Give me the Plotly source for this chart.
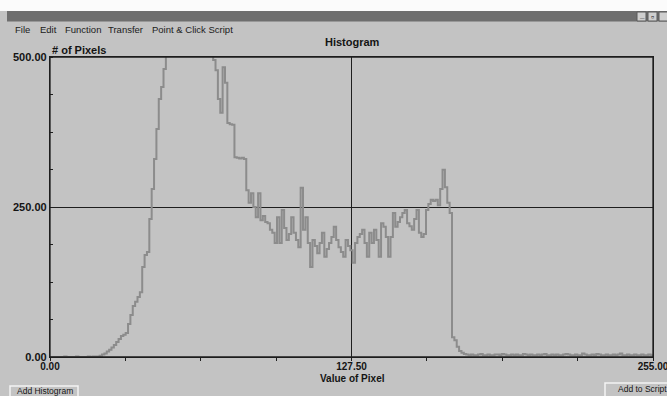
import plotly.graph_objects as go

# ---------------- data ----------------
pixel_count = (
    [0, 0, 0, 0, 0, 0, 1, 0, 0, 0, 0, 1, 0, 0, 0, 0, 1, 0, 1, 1]                 # 0-19
    + [1, 2, 4, 6, 9, 12, 16, 20, 25, 30, 35, 37, 40, 55, 70, 85, 92, 100, 108, 150,
       170, 175, 230, 280, 330, 380, 430, 450, 480, 520]                          # 20-49
    + [560, 600, 640, 680, 700, 720, 720, 710, 700, 690, 680, 660, 640, 620, 600,
       580, 560, 540, 520]                                                        # 50-68
    + [495, 478, 430, 407, 483, 457, 390, 388, 387, 333, 332, 331, 332, 330, 278,
       257, 273, 250, 233, 273, 228, 235, 225, 223, 212, 207, 190, 233, 190, 245,
       215]                                                                       # 69-99
    + [195, 205, 233, 207, 195, 183, 282, 212, 233, 190, 150, 195, 185, 173, 190,
       207, 167, 180, 190, 200, 217, 195, 183, 175, 167, 195, 185, 178, 157, 190,
       200, 205, 212, 190, 167, 207, 190, 212, 195, 167, 223, 217, 200, 167, 200,
       240, 217, 225, 233, 240, 245, 223, 218, 212, 230, 245, 207, 200, 205, 245,
       255, 262, 260, 262, 253, 280, 312, 283, 257, 240]                          # 100-169
    + [33, 28, 17, 10, 7]                                                         # 170-174
    + [5, 4, 3, 4, 3, 3, 4, 5, 3, 3, 4, 3, 3, 4, 4, 3, 5, 4, 3, 3,
       4, 3, 4, 3, 3, 5, 4, 3, 4, 3, 3, 4, 3, 4, 5, 3, 3, 4, 3, 4,
       3, 3, 4, 5, 4, 3, 3, 4, 3, 3, 6, 4, 3, 3, 4, 3, 5, 4, 3, 3,
       4, 3, 3, 4, 3, 4, 6, 3, 3, 4, 3, 3, 4, 3, 3, 4, 3, 3, 4, 3, 3]             # 175-255
)
pixel_value = list(range(len(pixel_count)))

x_tick_vals = [0, 127.5, 255]
x_tick_text = ["0.00", "127.50", "255.00"]
y_tick_vals = [0, 250, 500]
y_tick_text = ["0.00", "250.00", "500.00"]

menu_items = ["File", "Edit", "Function", "Transfer", "Point & Click Script"]
menu_x = [13, 38, 63, 106, 150]

# ---------------- layout helpers ----------------
W, H = 667, 396
L, R, T, B = 50, 14, 57, 39
PW, PH = W - L - R, H - T - B
BG = "#c3c3c3"
INK = "#141414"
AX = "#1e1e1e"
FONT = "Liberation Sans, Arial, sans-serif"


def px(x):
    return (x - L) / PW


def py(y):
    return (H - B - y) / PH


fig = go.Figure()
fig.add_trace(go.Scatter(
    x=pixel_value, y=pixel_count, mode="lines",
    line=dict(color="#8c8c8c", width=2, shape="hv"),
    hoverinfo="skip", showlegend=False,
))

shapes = [
    # white scan strip on top
    dict(type="rect", xref="paper", yref="paper", x0=px(-2), x1=px(W + 2), y0=py(11), y1=py(-2),
         fillcolor="#fbfbfb", line=dict(width=0), layer="below"),
    # window title bar
    dict(type="rect", xref="paper", yref="paper", x0=px(7), x1=px(W + 2), y0=py(21.5), y1=py(11),
         fillcolor="#6e6e6e", line=dict(width=0), layer="below"),
    # plot frame
    dict(type="rect", xref="paper", yref="paper", x0=0, x1=1, y0=0, y1=1,
         fillcolor="rgba(0,0,0,0)", line=dict(color=AX, width=1.3), layer="above"),
]
# title-bar buttons
for bx in [637, 648, 659]:
    shapes.append(dict(type="rect", xref="paper", yref="paper", x0=px(bx), x1=px(bx + 9),
                       y0=py(21), y1=py(12), fillcolor="#cfcfcf",
                       line=dict(color="#5a5a5a", width=1), layer="above"))
# bottom buttons
shapes.append(dict(type="rect", xref="paper", yref="paper", x0=px(10), x1=px(78), y0=py(398), y1=py(386),
                   fillcolor="rgba(0,0,0,0)", line=dict(color="#f4f4f4", width=1.5)))
shapes.append(dict(type="rect", xref="paper", yref="paper", x0=px(605), x1=px(670), y0=py(398), y1=py(383),
                   fillcolor="rgba(0,0,0,0)", line=dict(color="#f4f4f4", width=1.5)))

annotations = []


def note(text, x, y, size=11, anchor="left", bold=True, color=INK):
    annotations.append(dict(
        text=f"<b>{text}</b>" if bold else text, xref="paper", yref="paper",
        x=px(x), y=py(y), xanchor=anchor, yanchor="middle", showarrow=False,
        font=dict(family=FONT, size=size, color=color)))


for name, mx in zip(menu_items, menu_x):
    note(name, mx, 30, size=9.5, bold=False, color="#202020")
note("Histogram", 352, 42, size=11, anchor="center")
note("# of Pixels", 50, 50, size=11, anchor="left")
note("Value of Pixel", 352, 378.5, size=10, anchor="center")
note("Add Histogram", 15, 391, size=8.5, anchor="left", bold=False)
note("Add to Script", 616, 389, size=8.5, anchor="left", bold=False)
note("_", 641.5, 15, size=8, anchor="center", bold=True)
note("▫", 652.5, 16.5, size=9, anchor="center", bold=True)

fig.update_layout(
    width=W, height=H,
    margin=dict(l=L, r=R, t=T, b=B, pad=0, autoexpand=False),
    paper_bgcolor=BG, plot_bgcolor=BG,
    font=dict(family=FONT, size=11, color=INK),
    shapes=shapes, annotations=annotations,
    showlegend=False,
    xaxis=dict(
        range=[0, 255], tickmode="array", tickvals=x_tick_vals,
        ticktext=[f"<b>{t}</b>" for t in x_tick_text],
        ticks="", showgrid=True, gridcolor=AX, gridwidth=1.3,
        showline=True, linecolor=AX, linewidth=1.3, mirror=True,
        zeroline=False, fixedrange=True, ticklabeloverflow="allow", automargin=False,
        minor=dict(tick0=0, dtick=255 / 8, ticks="outside", ticklen=3, tickcolor=AX, showgrid=False),
        tickfont=dict(family=FONT, size=10, color=INK),
    ),
    yaxis=dict(
        range=[0, 500], tickmode="array", tickvals=y_tick_vals,
        ticktext=[f"<b>{t}</b>" for t in y_tick_text],
        ticks="", showgrid=True, gridcolor=AX, gridwidth=1.3,
        showline=True, linecolor=AX, linewidth=1.3, mirror=True,
        zeroline=False, fixedrange=True, ticklabeloverflow="allow", automargin=False,
        minor=dict(tick0=0, dtick=62.5, ticks="inside", ticklen=3, tickcolor=AX, showgrid=False),
        tickfont=dict(family=FONT, size=11, color=INK),
    ),
)

fig.write_html(
    "out.html",
    config={"displayModeBar": False},
    post_script="document.body.style.margin='0';document.body.style.overflow='hidden';",
)
